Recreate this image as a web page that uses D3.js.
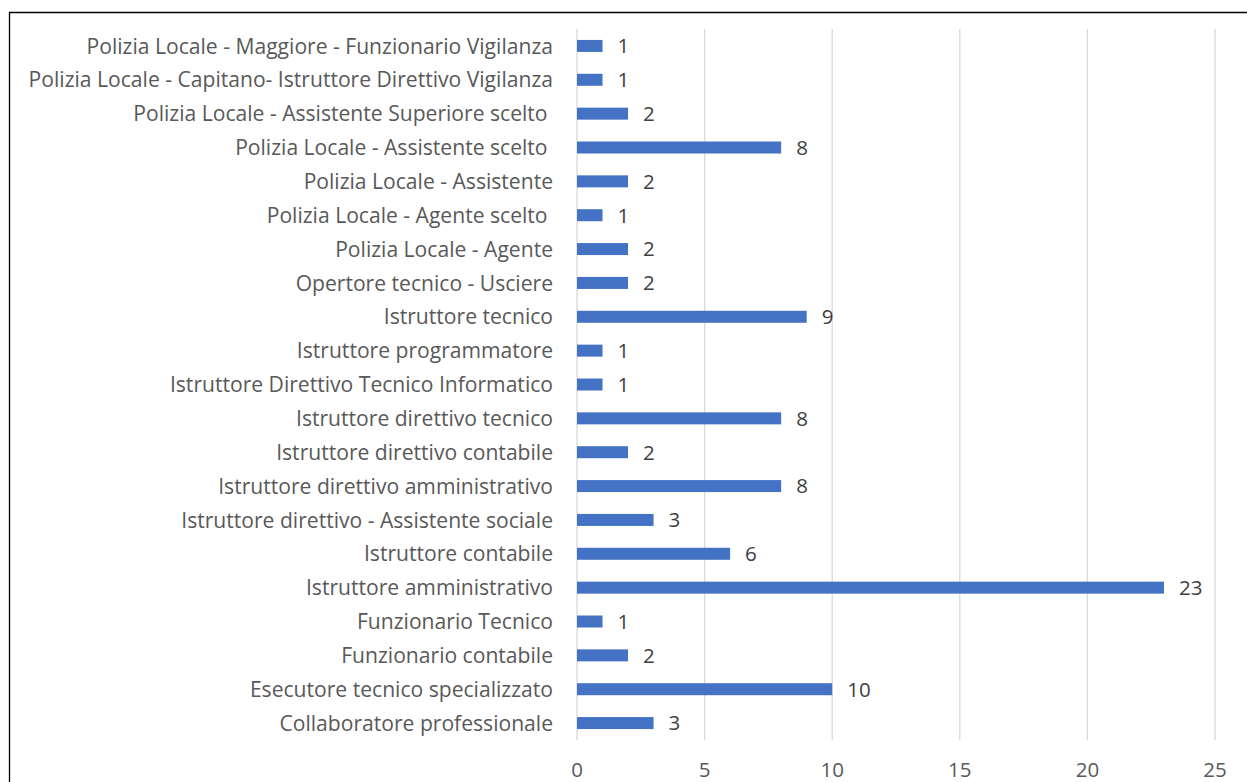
<!DOCTYPE html>
<html>
<head>
<meta charset="utf-8">
<script src="https://cdn.jsdelivr.net/npm/d3@7"></script>
<style>
  body { margin: 0; background: #fff; }
  svg text { font-family: "Open Sans", Lato, sans-serif; }
</style>
</head>
<body>
<div class="chart"></div>
<script>
// categories top to bottom, as shown in the chart
const categories = [
  'Polizia Locale - Maggiore - Funzionario Vigilanza',
  'Polizia Locale - Capitano- Istruttore Direttivo Vigilanza',
  'Polizia Locale - Assistente Superiore scelto ',
  'Polizia Locale - Assistente scelto ',
  'Polizia Locale - Assistente',
  'Polizia Locale - Agente scelto ',
  'Polizia Locale - Agente',
  'Opertore tecnico - Usciere',
  'Istruttore tecnico',
  'Istruttore programmatore',
  'Istruttore Direttivo Tecnico Informatico',
  'Istruttore direttivo tecnico',
  'Istruttore direttivo contabile',
  'Istruttore direttivo amministrativo',
  'Istruttore direttivo - Assistente sociale',
  'Istruttore contabile',
  'Istruttore amministrativo',
  'Funzionario Tecnico',
  'Funzionario contabile',
  'Esecutore tecnico specializzato',
  'Collaboratore professionale'
];
const values = [1, 1, 2, 8, 2, 1, 2, 2, 9, 1, 1, 8, 2, 8, 3, 6, 23, 1, 2, 10, 3];
const ticks = [0, 5, 10, 15, 20, 25];

const width = 1247, height = 782;
const svg = d3.select('.chart').append('svg').attr('width', width).attr('height', height);

// frame of the chart area (only left and top edges are in view)
svg.append('path')
  .attr('d', 'M9.5,782 V12.5 H1247')
  .attr('fill', 'none').attr('stroke', '#000').attr('stroke-width', 1.3);

const x = d3.scaleLinear().domain([0, 25]).range([577, 1215]);
const y = d3.scaleBand().domain(categories).range([29, 740]);
const barH = 12;

// gridlines
svg.append('g').selectAll('line')
  .data(ticks)
  .join('line')
  .attr('x1', d => x(d)).attr('x2', d => x(d))
  .attr('y1', 29).attr('y2', 740)
  .attr('stroke', '#d9d9d9').attr('stroke-width', 1.3);

// bars
svg.append('g').selectAll('rect')
  .data(values)
  .join('rect')
  .attr('x', x(0))
  .attr('y', (d, i) => y(categories[i]) + y.bandwidth() / 2 - barH / 2)
  .attr('width', d => x(d) - x(0))
  .attr('height', barH)
  .attr('fill', '#4472c4');

// value labels
svg.append('g').selectAll('text')
  .data(values)
  .join('text')
  .attr('x', d => x(d) + 15)
  .attr('y', (d, i) => y(categories[i]) + y.bandwidth() / 2)
  .attr('dy', '0.36em')
  .attr('font-size', 20.5)
  .attr('fill', '#404040')
  .text(d => d);

// category labels
svg.append('g').selectAll('text')
  .data(categories)
  .join('text')
  .attr('x', 553)
  .attr('y', d => y(d) + y.bandwidth() / 2)
  .attr('dy', '0.36em')
  .attr('text-anchor', 'end')
  .attr('font-size', 21.1)
  .attr('fill', '#595959')
  .style('white-space', 'pre')
  .text(d => d);

// x tick labels
svg.append('g').selectAll('text')
  .data(ticks)
  .join('text')
  .attr('x', d => x(d))
  .attr('y', 770)
  .attr('dy', '0.36em')
  .attr('text-anchor', 'middle')
  .attr('font-size', 20.5)
  .attr('fill', '#595959')
  .text(d => d);
</script>
</body>
</html>
